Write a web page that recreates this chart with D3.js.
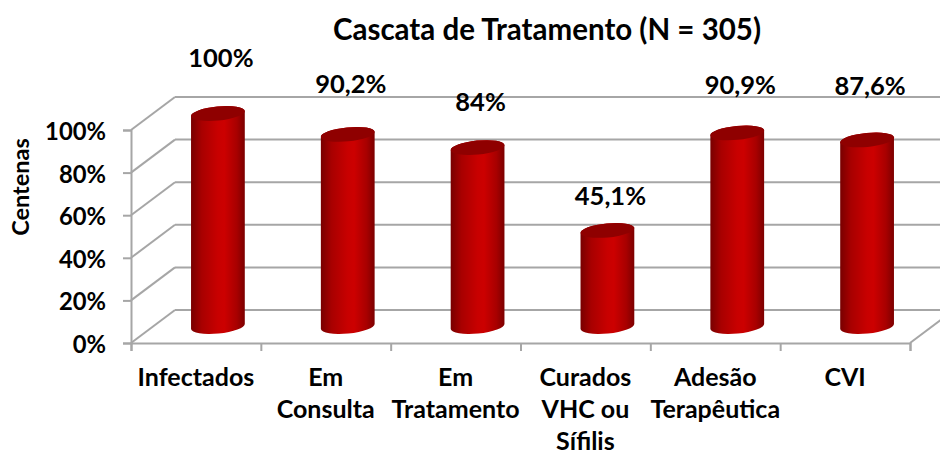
<!DOCTYPE html>
<html>
<head>
<meta charset="utf-8">
<script src="https://cdn.jsdelivr.net/npm/d3@7"></script>
<style>
  html, body { margin: 0; background: #fff; }
  text { font-family: Lato, sans-serif; font-weight: 700; fill: #000; }
</style>
</head>
<body>
<div class="canvas"></div>
<script>
const categories = [
  ['Infectados'],
  ['Em', 'Consulta'],
  ['Em', 'Tratamento'],
  ['Curados', 'VHC ou', 'Sífilis'],
  ['Adesão', 'Terapêutica'],
  ['CVI']
];
const values = [100, 90.2, 84, 45.1, 90.9, 87.6];
const valueLabels = ['100%', '90,2%', '84%', '45,1%', '90,9%', '87,6%'];
const yTicks = [0, 20, 40, 60, 80, 100];

const dims = { width: 940, height: 450 };
const plot = { left: 131, right: 910, bottom: 343, top: 130 };
const depth = { x: 44, y: 33 };
const cyl = { rx: 27, ry: 7, tilt: 5.5 };
const gridColour = '#a6a6a6';
// how far each value label sits above its bar, as placed in the original
const labelGaps = [55, 49, 45, 33, 47, 53];

const svg = d3.select('.canvas')
  .append('svg')
  .attr('width', dims.width)
  .attr('height', dims.height)
  .style('display', 'block');

const x = d3.scaleBand()
  .domain(d3.range(categories.length))
  .range([plot.left, plot.right]);

const y = d3.scaleLinear()
  .domain([0, 100])
  .range([plot.bottom, plot.top]);

// gradient across the cylinder body
const defs = svg.append('defs');
const grad = defs.append('linearGradient').attr('id', 'body');
[[0, '#780000'], [0.2, '#a80000'], [0.5, '#c80000'], [0.62, '#cc0000'], [0.85, '#a80000'], [1, '#7c0000']]
  .forEach(s => grad.append('stop').attr('offset', s[0]).attr('stop-color', s[1]));

// back wall and left wall gridlines
const grid = svg.append('g')
  .attr('fill', 'none')
  .attr('stroke', gridColour)
  .attr('stroke-width', 2);

grid.selectAll('.diag')
  .data(yTicks)
  .enter()
  .append('line')
    .attr('x1', plot.left)
    .attr('y1', d => y(d))
    .attr('x2', plot.left + depth.x)
    .attr('y2', d => y(d) - depth.y);

grid.selectAll('.back')
  .data(yTicks)
  .enter()
  .append('line')
    .attr('x1', plot.left + depth.x)
    .attr('y1', d => y(d) - depth.y)
    .attr('x2', dims.width)
    .attr('y2', d => y(d) - depth.y);

// right edge of the floor
grid.append('line')
  .attr('x1', plot.right)
  .attr('y1', plot.bottom)
  .attr('x2', plot.right + depth.x)
  .attr('y2', plot.bottom - depth.y);

// value axis
const yAxis = svg.append('g')
  .attr('transform', `translate(${plot.left},0)`)
  .call(d3.axisLeft(y).tickValues(yTicks).tickSize(8).tickPadding(17).tickFormat(d => d + '%'));

// category axis, ticks go on the band edges so the axis is built from a point list
const edges = d3.range(categories.length + 1).map(i => plot.left + i * x.step());
const xAxis = svg.append('g')
  .attr('transform', `translate(0,${plot.bottom})`)
  .call(d3.axisBottom(d3.scaleLinear().domain([plot.left, plot.right]).range([plot.left, plot.right]))
    .tickValues(edges).tickSize(8).tickFormat(''));

[yAxis, xAxis].forEach(a => {
  a.selectAll('path, line').attr('stroke', gridColour).attr('stroke-width', 2);
  a.select('.domain').attr('stroke', gridColour);
});
yAxis.selectAll('text')
  .attr('dy', '0.4em')
  .style('font-family', 'Lato, sans-serif')
  .style('font-weight', 700)
  .style('font-size', '23.8px')
  .attr('fill', '#000');

// cylinders
const rad = cyl.tilt * Math.PI / 180;
const dx = cyl.rx * Math.cos(rad);
const dy = cyl.rx * Math.sin(rad);
const cx = i => x(i) + x.bandwidth() / 2 + depth.x / 2;
const cy = v => y(v) - depth.y / 2;

const bars = svg.selectAll('.bar')
  .data(values)
  .enter()
  .append('g')
  .attr('class', 'bar');

bars.append('path')
  .attr('fill', 'url(#body)')
  .attr('d', (d, i) => {
    const l = cx(i) - dx, r = cx(i) + dx;
    const arc = `A${cyl.rx},${cyl.ry} ${-cyl.tilt} 0 0`;
    return `M${l},${cy(d) + dy} L${l},${cy(0) + dy} ${arc} ${r},${cy(0) - dy} L${r},${cy(d) - dy} ${arc} ${l},${cy(d) + dy} Z`;
  });

bars.append('ellipse')
  .attr('fill', '#8f0000')
  .attr('rx', cyl.rx)
  .attr('ry', cyl.ry)
  .attr('transform', (d, i) => `translate(${cx(i)},${cy(d)}) rotate(${-cyl.tilt})`);

// value labels
svg.selectAll('.value')
  .data(values)
  .enter()
  .append('text')
    .attr('class', 'value')
    .attr('x', (d, i) => cx(i) + 3)
    .attr('y', (d, i) => cy(d) - labelGaps[i] + 8)
    .attr('text-anchor', 'middle')
    .style('font-size', '25.5px')
    .text((d, i) => valueLabels[i]);

// category labels
const catLabels = svg.selectAll('.cat')
  .data(categories)
  .enter()
  .append('text')
    .attr('class', 'cat')
    .attr('text-anchor', 'middle')
    .style('font-size', '25px');

catLabels.selectAll('tspan')
  .data((d, i) => d.map(line => ({ line, i })))
  .enter()
  .append('tspan')
    .attr('x', d => x(d.i) + x.bandwidth() / 2)
    .attr('y', (d, j) => 386 + j * 32)
    .text(d => d.line);

svg.append('text')
  .attr('x', 547)
  .attr('y', 40)
  .attr('text-anchor', 'middle')
  .style('font-size', '29.5px')
  .text('Cascata de Tratamento (N = 305)');

svg.append('text')
  .attr('transform', 'translate(28.5,187) rotate(-90)')
  .attr('text-anchor', 'middle')
  .style('font-size', '23.5px')
  .text('Centenas');
</script>
</body>
</html>
